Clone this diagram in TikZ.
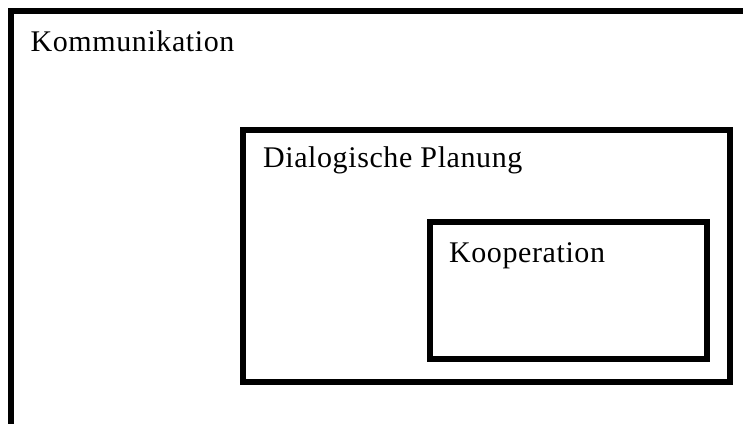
\documentclass[tikz,border=0pt]{standalone}
\usepackage{fontspec}
\setmainfont{Liberation Serif}[LetterSpace=2]
\begin{document}
\begin{tikzpicture}[x=1pt,y=-1pt,
  frame/.style={draw=black, line width=6.2pt, rectangle, inner sep=0pt, fill=none},
  lbl/.style={anchor=base west, inner sep=0pt, font=\fontsize{30}{36}\selectfont}]
  \useasboundingbox (0,0) rectangle (743,423);
  \clip (0,0) rectangle (743,423);
  % nested frames: outer runs past the right and bottom edges
  \node[frame, minimum width=749pt, minimum height=429pt] (komm) at (385.5,225.5) {};
  \node[frame, minimum width=487pt, minimum height=252pt] (plan) at (486.5,256) {};
  \node[frame, minimum width=277pt, minimum height=137pt] (koop) at (568.5,290.5) {};
  % titles in the upper left corner of each frame
  \node[lbl] (kommtext) at ([xshift=22.5pt,yshift=-44pt]komm.north west) {Kommunikation};
  \node[lbl] (plantext) at ([xshift=23pt,yshift=-41pt]plan.north west) {Dialogische Planung};
  \node[lbl] (kooptext) at ([xshift=22pt,yshift=-44pt]koop.north west) {Kooperation};
\end{tikzpicture}
\end{document}
